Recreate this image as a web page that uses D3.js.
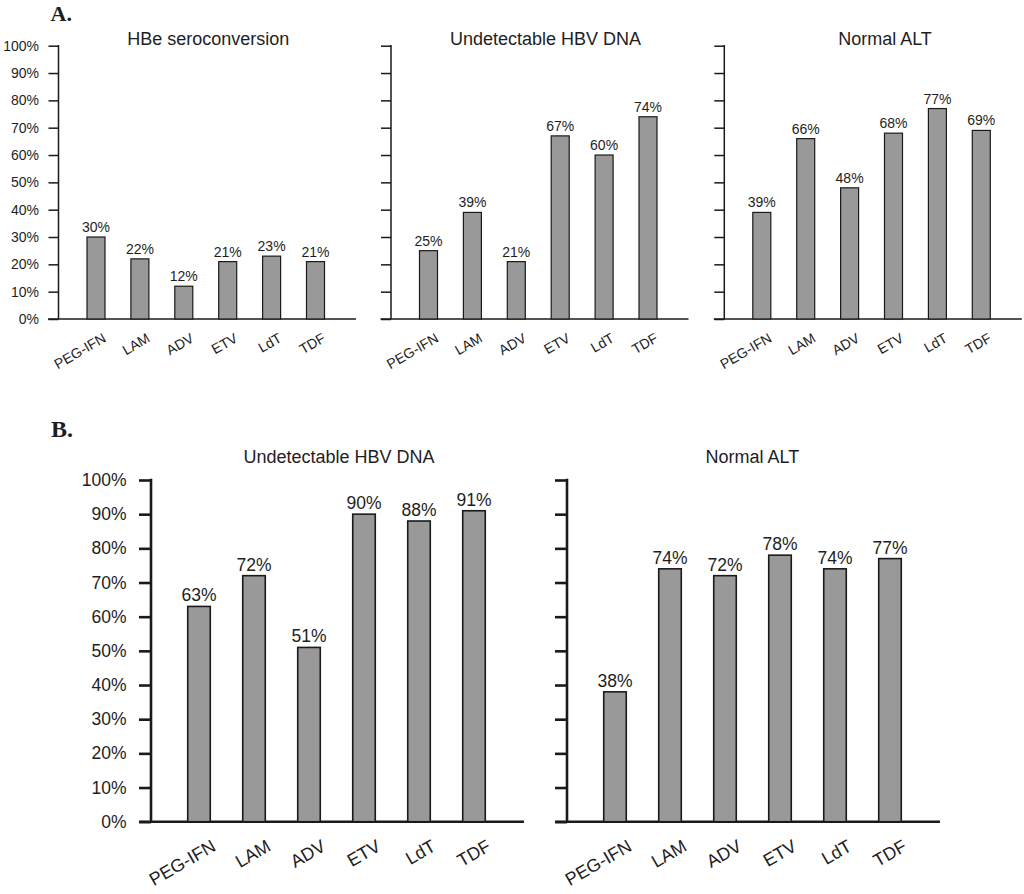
<!DOCTYPE html>
<html>
<head>
<meta charset="utf-8">
<script src="https://cdn.jsdelivr.net/npm/d3@7/dist/d3.min.js"></script>
<style>
  html, body { margin: 0; padding: 0; background: #fff; }
  svg { display: block; }
  text { font-family: "Liberation Sans", Arial, Helvetica, sans-serif; fill: #1e1e1e; }
</style>
</head>
<body>
<svg id="chart" width="1024" height="894"></svg>
<script>
// ---------- data ----------
const categories = ["PEG-IFN", "LAM", "ADV", "ETV", "LdT", "TDF"];
const hbeSeroconversionA = [30, 22, 12, 21, 23, 21];
const undetectableDnaA = [25, 39, 21, 67, 60, 74];
const normalAltA = [39, 66, 48, 68, 77, 69];
const undetectableDnaB = [63, 72, 51, 90, 88, 91];
const normalAltB = [38, 74, 72, 78, 74, 77];
const yTickValues = [0, 10, 20, 30, 40, 50, 60, 70, 80, 90, 100];
const panelTitlesA = ["HBe seroconversion", "Undetectable HBV DNA", "Normal ALT"];
const panelTitlesB = ["Undetectable HBV DNA", "Normal ALT"];
const sectionLabels = ["A.", "B."];

// ---------- layout ----------
const svg = d3.select("#chart");

const styleA = {
  y0: 319, y100: 45.7, axisW: 1.5, tickLen: 10, tickFont: 14, valFont: 14,
  catFont: 14, titleFont: 18, titleY: 45, step: 43.9, firstOffset: 37.5,
  barFrac: 0.41, axisLeftExt: 10.5, axisRightExt: 297.5, barStroke: 1.2,
  labelDx: 11, labelDy: 22, valGap: 5, tickLabelGap: 19.5
};
const styleB = {
  y0: 821.7, y100: 480, axisW: 2.6, tickLen: 12, tickFont: 17.5, valFont: 17.5,
  catFont: 18, titleFont: 18, titleY: 462.5, step: 55, firstOffset: 48,
  barFrac: 0.41, axisLeftExt: 12, axisRightExt: 373, barStroke: 1.6,
  labelDx: 18, labelDy: 28, valGap: 5, tickLabelGap: 24.5
};

const panels = [
  { style: styleA, axisX: 58.5,  values: hbeSeroconversionA, title: panelTitlesA[0], titleX: 208.3, yLabels: true },
  { style: styleA, axisX: 391,   values: undetectableDnaA,   title: panelTitlesA[1], titleX: 545.5, yLabels: false },
  { style: styleA, axisX: 724.3, values: normalAltA,         title: panelTitlesA[2], titleX: 885,   yLabels: false },
  { style: styleB, axisX: 151,   values: undetectableDnaB,   title: panelTitlesB[0], titleX: 339,   yLabels: true },
  { style: styleB, axisX: 567,   values: normalAltB,         title: panelTitlesB[1], titleX: 752.3, yLabels: false }
];

panels.forEach(p => {
  const s = p.style;
  const g = svg.append("g");
  const start = p.axisX + s.firstOffset - s.step / 2;
  const x = d3.scaleBand()
    .domain(categories)
    .range([start, start + s.step * categories.length])
    .paddingInner(1 - s.barFrac)
    .paddingOuter((1 - s.barFrac) / 2);
  const y = d3.scaleLinear().domain([0, 100]).range([s.y0, s.y100]);

  // y axis
  const yAxis = d3.axisLeft(y)
    .tickValues(yTickValues)
    .tickSize(s.tickLen)
    .tickPadding(s.tickLabelGap - s.tickLen)
    .tickFormat(d => p.yLabels ? d + "%" : "");
  const ya = g.append("g").attr("transform", `translate(${p.axisX},0)`).call(yAxis);
  ya.select(".domain").remove();
  ya.selectAll(".tick line").attr("stroke", "#1a1a1a").attr("stroke-width", s.axisW);
  ya.selectAll(".tick text")
    .style("font-size", s.tickFont + "px")
    .style("font-family", "'Liberation Sans', Arial, sans-serif")
    .attr("fill", "#1e1e1e");
  g.append("line")
    .attr("x1", p.axisX).attr("x2", p.axisX)
    .attr("y1", y(100) - s.axisW / 2).attr("y2", y(0))
    .attr("stroke", "#1a1a1a").attr("stroke-width", s.axisW);

  // x axis baseline
  const xa = d3.axisBottom(x).tickSize(0).tickFormat("");
  const xg = g.append("g").attr("transform", `translate(0,${s.y0})`).call(xa);
  xg.select(".domain").remove();
  g.append("line")
    .attr("x1", p.axisX - s.axisLeftExt).attr("x2", p.axisX + s.axisRightExt)
    .attr("y1", s.y0).attr("y2", s.y0)
    .attr("stroke", "#1a1a1a").attr("stroke-width", s.axisW);

  // bars
  const data = categories.map((c, i) => ({ c, v: p.values[i] }));
  g.selectAll("rect.bar").data(data).enter().append("rect")
    .attr("class", "bar")
    .attr("x", d => x(d.c))
    .attr("width", x.bandwidth())
    .attr("y", d => y(d.v))
    .attr("height", d => s.y0 - y(d.v))
    .attr("fill", "#999999")
    .attr("stroke", "#1a1a1a")
    .attr("stroke-width", s.barStroke);

  // value labels
  g.selectAll("text.val").data(data).enter().append("text")
    .attr("class", "val")
    .attr("x", d => x(d.c) + x.bandwidth() / 2)
    .attr("y", d => y(d.v) - s.valGap)
    .attr("text-anchor", "middle")
    .style("font-size", s.valFont + "px")
    .text(d => d.v + "%");

  // category labels
  g.selectAll("text.cat").data(categories).enter().append("text")
    .attr("class", "cat")
    .attr("transform", d => `translate(${x(d) + x.bandwidth() / 2 + s.labelDx},${s.y0 + s.labelDy}) rotate(-30)`)
    .attr("text-anchor", "end")
    .style("font-size", s.catFont + "px")
    .text(d => d);

  // title
  g.append("text")
    .attr("x", p.titleX).attr("y", s.titleY)
    .attr("text-anchor", "middle")
    .style("font-size", s.titleFont + "px")
    .text(p.title);
});

// section labels
svg.append("text").attr("x", 50.5).attr("y", 20.5)
  .style("font-family", "'Liberation Serif', 'Times New Roman', serif")
  .style("font-weight", "bold").style("font-size", "22px").attr("fill", "#111")
  .text(sectionLabels[0]);
svg.append("text").attr("x", 51).attr("y", 437)
  .style("font-family", "'Liberation Serif', 'Times New Roman', serif")
  .style("font-weight", "bold").style("font-size", "24px").attr("fill", "#111")
  .text(sectionLabels[1]);
</script>
</body>
</html>
